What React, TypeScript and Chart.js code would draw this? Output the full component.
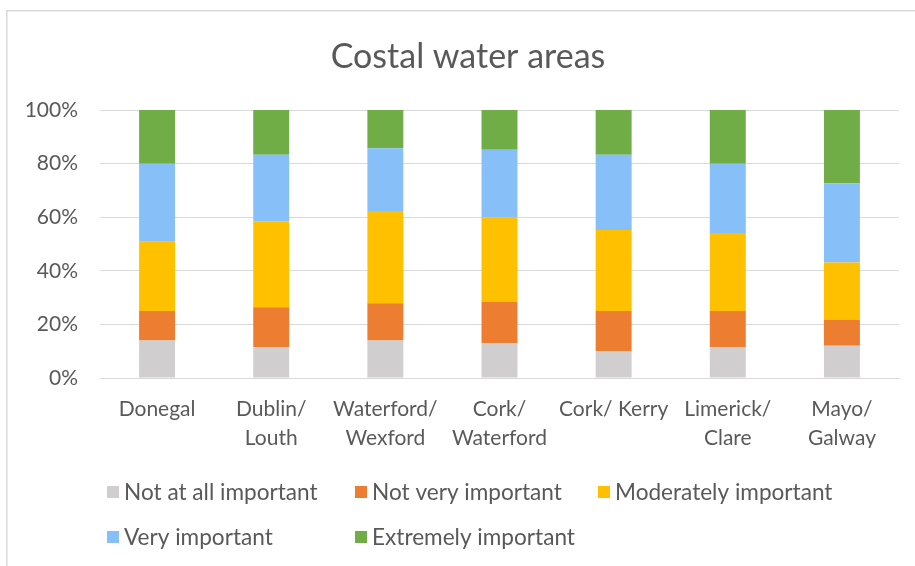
import React, { useEffect, useRef } from "react";
import { Chart, registerables } from "chart.js";

Chart.register(...registerables);

const categories: (string | string[])[] = [
  "Donegal",
  ["Dublin/", "Louth"],
  ["Waterford/", "Wexford"],
  ["Cork/", "Waterford"],
  "Cork/ Kerry",
  ["Limerick/", "Clare"],
  ["Mayo/", "Galway"],
];

const seriesNames = [
  "Not at all important",
  "Not very important",
  "Moderately important",
  "Very important",
  "Extremely important",
];

const notAtAll = [14.0, 11.5, 14.0, 13.0, 10.1, 11.5, 12.0];
const notVery = [11.0, 14.9, 13.9, 15.4, 14.9, 13.5, 9.6];
const moderately = [25.8, 32.1, 34.4, 31.5, 30.2, 29.1, 21.5];
const very = [29.1, 24.8, 23.4, 25.3, 28.1, 25.8, 29.6];
const extremely = [20.1, 16.7, 14.3, 14.8, 16.7, 20.1, 27.3];

const seriesValues = [notAtAll, notVery, moderately, very, extremely];
const seriesColors = ["#D0CECE", "#ED7D31", "#FFC000", "#87BFF9", "#70AD47"];

const yTicks = [0, 20, 40, 60, 80, 100];

const TEXT = "#595959";
const FONT = "Lato, 'Open Sans', sans-serif";

// Frame, title and a two-row legend laid out in fixed columns
const decorations = {
  id: "decorations",
  beforeDraw(chart: Chart) {
    const ctx = chart.ctx;
    ctx.save();
    ctx.fillStyle = "#ffffff";
    ctx.fillRect(0, 0, chart.width, chart.height);
    ctx.strokeStyle = "#D9D9D9";
    ctx.lineWidth = 1.5;
    ctx.strokeRect(6.75, 10.75, chart.width + 20, chart.height + 20);
    ctx.restore();
  },
  afterDraw(chart: Chart) {
    const ctx = chart.ctx;
    ctx.save();
    ctx.fillStyle = TEXT;
    ctx.textBaseline = "middle";
    ctx.textAlign = "center";
    ctx.font = `34px ${FONT}`;
    ctx.fillText("Costal water areas", 468, 57);

    const cols = [107, 355, 598];
    const rows = [492, 537];
    ctx.font = `22.6px ${FONT}`;
    ctx.textAlign = "left";
    seriesNames.forEach((name, i) => {
      const x = cols[i % 3];
      const y = rows[Math.floor(i / 3)];
      ctx.fillStyle = seriesColors[i];
      ctx.fillRect(x, y - 6, 12, 12);
      ctx.fillStyle = TEXT;
      ctx.fillText(name, x + 17, y + 1);
    });
    ctx.restore();
  },
};

export default function App() {
  const canvasRef = useRef<HTMLCanvasElement | null>(null);

  useEffect(() => {
    document.body.style.margin = "0";
    const canvas = canvasRef.current;
    if (!canvas) return;
    const chart = new Chart(canvas, {
      type: "bar",
      data: {
        labels: categories,
        datasets: seriesNames.map((name, i) => ({
          label: name,
          data: seriesValues[i],
          backgroundColor: seriesColors[i],
          borderWidth: 0,
          categoryPercentage: 1,
          barPercentage: 0.315,
        })),
      },
      options: {
        animation: false,
        responsive: false,
        layout: { padding: { left: 10, top: 110, right: 16, bottom: 118 } },
        plugins: {
          legend: { display: false },
          title: { display: false },
          tooltip: { enabled: false },
        },
        scales: {
          x: {
            stacked: true,
            grid: { display: false, drawTicks: false },
            border: { color: "#D9D9D9", width: 1 },
            ticks: {
              color: TEXT,
              font: { family: FONT, size: 21, lineHeight: 1.38 },
              padding: 17,
              maxRotation: 0,
              autoSkip: false,
            },
            afterFit: (s: any) => {
              s.height = 70;
            },
          },
          y: {
            stacked: true,
            min: 0,
            max: 100,
            afterBuildTicks: (s: any) => {
              s.ticks = yTicks.map((v) => ({ value: v }));
            },
            grid: { color: "#D9D9D9", drawTicks: false },
            border: { display: false },
            ticks: {
              color: TEXT,
              font: { family: FONT, size: 21 },
              padding: 22,
              callback: (v: any) => `${v}%`,
            },
            afterFit: (s: any) => {
              s.width = 90;
            },
          },
        },
      },
      plugins: [decorations],
    });
    return () => chart.destroy();
  }, []);

  return (
    <div style={{ width: 915, height: 566 }}>
      <canvas ref={canvasRef} width={915} height={566} />
    </div>
  );
}
